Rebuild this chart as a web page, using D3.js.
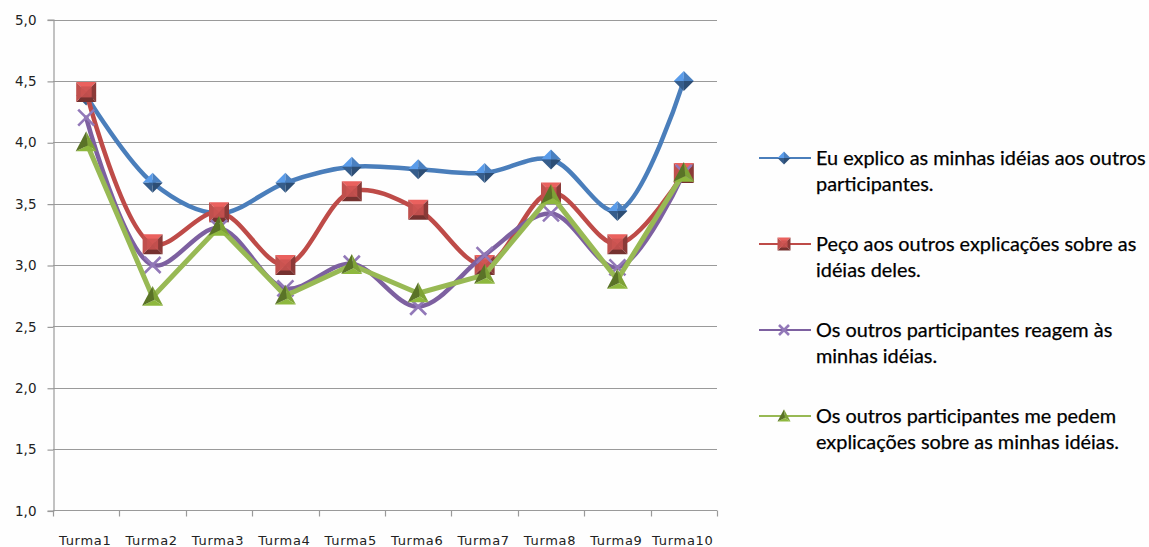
<!DOCTYPE html>
<html>
<head>
<meta charset="utf-8">
<script src="https://cdn.jsdelivr.net/npm/d3@7"></script>
<style>
  html, body { margin: 0; padding: 0; background: #ffffff; }
  svg { display: block; }
</style>
</head>
<body>
<svg id="chart" width="1149" height="547"></svg>
<script>
// ---------- data ----------
const categories = ["Turma1","Turma2","Turma3","Turma4","Turma5","Turma6","Turma7","Turma8","Turma9","Turma10"];
const yTicks = [1.0, 1.5, 2.0, 2.5, 3.0, 3.5, 4.0, 4.5, 5.0];

const seriesNames = [
  ["Eu explico as minhas idéias aos outros", "participantes."],
  ["Peço aos outros explicações sobre as", "idéias deles."],
  ["Os outros participantes reagem às", "minhas idéias."],
  ["Os outros participantes me pedem", "explicações sobre as minhas idéias."]
];
const explico  = [4.38, 3.67, 3.42, 3.67, 3.80, 3.78, 3.75, 3.86, 3.44, 4.50];
const peco     = [4.41, 3.17, 3.43, 3.00, 3.60, 3.45, 3.00, 3.59, 3.17, 3.75];
const reagem   = [4.20, 3.00, 3.30, 2.81, 3.01, 2.66, 3.08, 3.42, 2.98, 3.75];
const pedem    = [4.00, 2.74, 3.31, 2.75, 3.00, 2.77, 2.92, 3.57, 2.88, 3.75];
const seriesValues = [explico, peco, reagem, pedem];

const colors       = ["#4a7ebb", "#be4b48", "#7d60a0", "#98b954"];
const markerColors = ["#4a80c0", "#c0504d", "#9278b8", "#6f8f30"];
const markers = ["diamond", "square", "x", "triangle"];
const smooth  = [true, true, true, false];

// ---------- layout ----------
const svg = d3.select("#chart");
const x = d3.scaleBand().domain(categories).range([53, 717]);
const y = d3.scaleLinear().domain([1, 5]).range([510.5, 19.5]);

svg.append("rect").attr("x", 0).attr("y", 0).attr("width", 1149).attr("height", 547).attr("fill", "#fefefe");

// gridlines
svg.append("g").selectAll("line").data(yTicks.filter(d => d > 1)).join("line")
  .attr("x1", 53).attr("x2", 717)
  .attr("y1", d => Math.round(y(d)) + 0.5).attr("y2", d => Math.round(y(d)) + 0.5)
  .attr("stroke", "#9a9a9a").attr("stroke-width", 1.2);

// y axis
const yAxis = svg.append("g").attr("transform", "translate(53.5,0)")
  .call(d3.axisLeft(y).tickValues(yTicks).tickSize(6).tickPadding(12)
    .tickFormat(d => d3.format(".1f")(d).replace(".", ",")));
yAxis.select(".domain").attr("stroke", "#9a9a9a").attr("stroke-width", 1.2);
yAxis.selectAll(".tick line").attr("stroke", "#9a9a9a").attr("stroke-width", 1.2)
  .attr("transform", "translate(0,0.5)");
yAxis.selectAll(".tick text").attr("font-family", "DejaVu Sans").attr("font-size", 13.5)
  .attr("fill", "#222").attr("dy", "0.35em").attr("x", -17);

// x axis
const xg = svg.append("g").attr("transform", "translate(0,510.5)");
xg.append("line").attr("x1", 53).attr("x2", 717).attr("stroke", "#9a9a9a").attr("stroke-width", 1.2);
const bounds = categories.map(c => x(c)).concat([x.range()[1]]);
xg.selectAll("line.tk").data(bounds).join("line").attr("class", "tk")
  .attr("x1", d => Math.round(d) + 0.5).attr("x2", d => Math.round(d) + 0.5)
  .attr("y1", 0).attr("y2", 6).attr("stroke", "#9a9a9a").attr("stroke-width", 1.2);
xg.selectAll("text").data(categories).join("text")
  .attr("x", d => x(d) + x.bandwidth() / 2 - 1).attr("y", 34.5)
  .attr("text-anchor", "middle").attr("font-family", "DejaVu Sans").attr("font-size", 13)
  .attr("letter-spacing", 0.7).attr("fill", "#222").text(d => d);

// ---------- marker drawing (pyramid facets) ----------
function shade(c, k) { return d3.color(c).brighter(k).formatHex(); }

function drawMarker(g, type, color, s) {
  const light = shade(color, 0.55), mid = color, dark = shade(color, -0.9), darker = shade(color, -1.4);
  if (type === "diamond") {
    const h = s;
    const pts = [[0,-h],[h,0],[0,h],[-h,0]];
    const fac = [[pts[3],pts[0]],[pts[0],pts[1]],[pts[1],pts[2]],[pts[2],pts[3]]];
    const fills = [light, mid, darker, dark];
    fac.forEach((f, i) => g.append("path")
      .attr("d", `M0,0L${f[0][0]},${f[0][1]}L${f[1][0]},${f[1][1]}Z`).attr("fill", fills[i]));
  } else if (type === "square") {
    const h = s;
    const pts = [[-h,-h],[h,-h],[h,h],[-h,h]];
    const fills = [light, dark, darker, mid];
    for (let i = 0; i < 4; i++) {
      const a = pts[i], b = pts[(i + 1) % 4];
      g.append("path").attr("d", `M0,0L${a[0]},${a[1]}L${b[0]},${b[1]}Z`).attr("fill", fills[i]);
    }
    const inner = h * 0.55;
    g.append("rect").attr("x", -inner).attr("y", -inner).attr("width", 2*inner).attr("height", 2*inner)
      .attr("fill", shade(color, 0.15)).attr("opacity", 0.85);
  } else if (type === "triangle") {
    const h = s;
    const pts = [[0,-h*1.05],[h,h*0.85],[-h,h*0.85]];
    const c = [h*0.15, h*0.3];
    const fills = [shade(color, 0.35), shade(color, 0.7), shade(color, -0.6)];
    for (let i = 0; i < 3; i++) {
      const a = pts[i], b = pts[(i + 1) % 3];
      g.append("path").attr("d", `M${c[0]},${c[1]}L${a[0]},${a[1]}L${b[0]},${b[1]}Z`).attr("fill", fills[i]);
    }
  } else if (type === "x") {
    const h = s;
    g.append("path").attr("d", `M${-h},${-h}L${h},${h}M${-h},${h}L${h},${-h}`)
      .attr("stroke", color).attr("stroke-width", 2.6).attr("fill", "none");
  }
}

// ---------- series ----------
const markerSize = [10, 10, 8, 10.5];
seriesValues.forEach((vals, si) => {
  const g = svg.append("g");
  const line = d3.line()
    .x((d, i) => x(categories[i]) + x.bandwidth() / 2)
    .y(d => y(d))
    .curve(smooth[si] ? d3.curveCatmullRom.alpha(0.5) : d3.curveLinear);
  g.append("path").datum(vals).attr("d", line)
    .attr("fill", "none").attr("stroke", colors[si])
    .attr("stroke-width", si === 3 ? 5 : 4.5).attr("stroke-linejoin", "round").attr("stroke-linecap", "round");
  vals.forEach((v, i) => {
    const mg = g.append("g").attr("transform", `translate(${x(categories[i]) + x.bandwidth() / 2},${y(v)})`);
    drawMarker(mg, markers[si], markerColors[si], markerSize[si]);
  });
});

// ---------- legend ----------
const lg = svg.append("g");
const legendTop = 158, legendStep = 86, lineGap = 26;
const texts = [];
seriesNames.forEach((lines, si) => {
  const cy = legendTop + si * legendStep;
  lg.append("line").attr("x1", 759).attr("x2", 811).attr("y1", cy).attr("y2", cy)
    .attr("stroke", colors[si]).attr("stroke-width", 2.2);
  const mg = lg.append("g").attr("transform", `translate(784,${cy})`);
  drawMarker(mg, markers[si], markerColors[si], si === 2 ? 5 : 6.5);
  lines.forEach((t, li) => {
    texts.push(lg.append("text").attr("x", 816).attr("y", cy + li * lineGap).attr("dy", "0.35em")
      .attr("font-family", "Lato, 'Open Sans', sans-serif").attr("font-size", 17)
      .attr("fill", "#000").attr("stroke", "#000").attr("stroke-width", 0.25).text(t));
  });
});
// fit legend font so first line spans the same width as in the original
const w = texts[0].node().getComputedTextLength();
const fs = 17 * 330 / w;
texts.forEach(t => t.attr("font-size", fs.toFixed(2)));
</script>
</body>
</html>
